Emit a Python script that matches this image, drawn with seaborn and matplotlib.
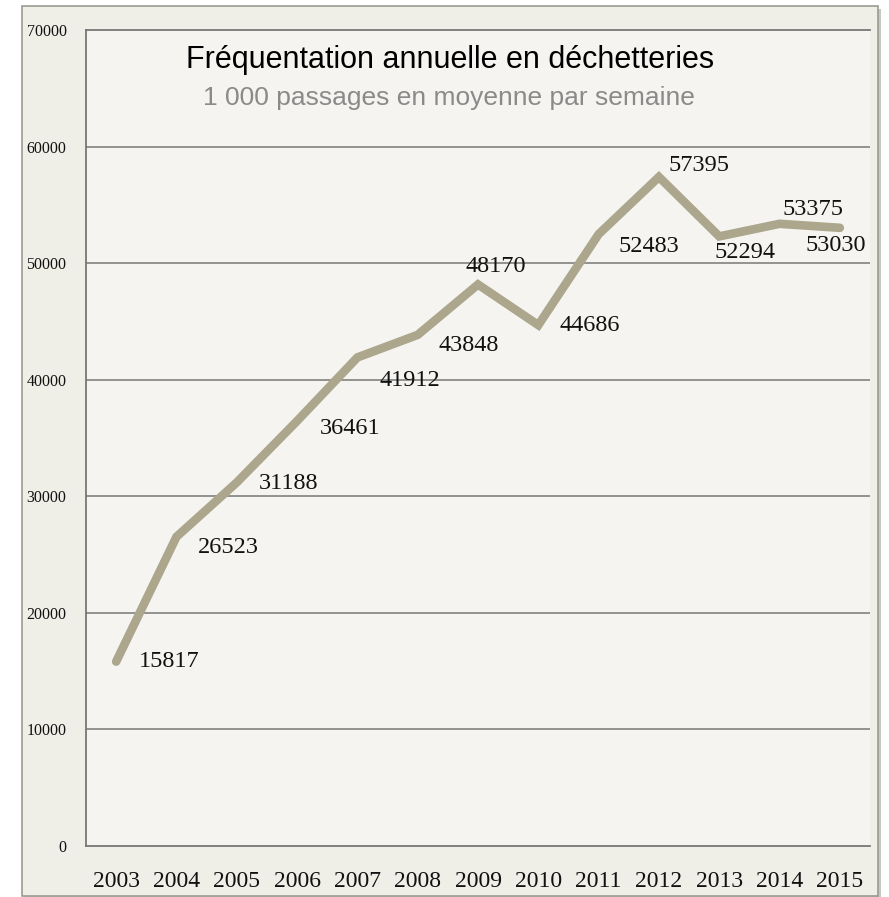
import matplotlib
matplotlib.use('Agg')
import matplotlib.pyplot as plt
import seaborn as sns
from matplotlib.patches import Rectangle

sns.set_theme(style='white')

years = [2003, 2004, 2005, 2006, 2007, 2008, 2009, 2010, 2011, 2012, 2013, 2014, 2015]
passages = [15817, 26523, 31188, 36461, 41912, 43848, 48170, 44686, 52483, 57395, 52294, 53375, 53030]
# label offsets (pixels) relative to each point
label_dx = [23, 21, 22, 23, 22, 21, -12, 21, 20, 10, -5, 3, -34]
label_dy = [0, -11, -1, -8, -23, -11, 18, 0, -12, 11, -16, 14, -18]

title = 'Fréquentation annuelle en déchetteries'
subtitle = '1 000 passages en moyenne par semaine'

W, H = 889, 897
fig = plt.figure(figsize=(W / 100, H / 100), dpi=100)
fig.patch.set_facecolor('white')

# outer frame
fig.patches.append(Rectangle((25 / W, 1 - 899 / H), 856 / W, 890 / H, transform=fig.transFigure,
                             facecolor='#c9c8c0', edgecolor='none', zorder=-10))
fig.patches.append(Rectangle((22 / W, 1 - 896 / H), 856 / W, 890 / H, transform=fig.transFigure,
                             facecolor='#efeee7', edgecolor='#9c9b92', linewidth=1.2, zorder=-9))

ax = fig.add_axes([86 / W, 1 - 846 / H, 784 / W, 816 / H])
ax.set_facecolor('#f5f4f0')

sns.lineplot(x=years, y=passages, ax=ax, color='#aca68d', linewidth=6.2,
             solid_capstyle='round', solid_joinstyle='miter', zorder=3)

for x, y, dx, dy in zip(years, passages, label_dx, label_dy):
    ax.annotate(str(y), (x, y), xytext=(dx, dy), textcoords='offset pixels',
                ha='left', va='center', fontsize=17.5, family='Liberation Serif', color='#111111')

ax.set_xlim(2002.5, 2015.5)
ax.set_ylim(0, 70000)
ax.set_xticks(years)
ax.set_xticklabels([str(y) for y in years], fontsize=17, family='Liberation Serif', color='#111111')
ax.set_yticks(range(0, 70001, 10000))
ax.set_yticklabels([str(v) for v in range(0, 70001, 10000)], fontsize=11.5,
                   family='Liberation Serif', color='#111111')
ax.tick_params(axis='x', length=0, pad=18)
ax.tick_params(axis='y', length=0, pad=14)
ax.set_xlabel('')
ax.set_ylabel('')

for v in range(10000, 70000, 10000):
    ax.axhline(v, color='#777777', linewidth=1.1, zorder=1)

for side in ['left', 'bottom', 'top']:
    ax.spines[side].set_color('#777777')
    ax.spines[side].set_linewidth(1.3)
ax.spines['right'].set_visible(False)

fig.text(450 / W, 1 - 60 / H, title, ha='center', va='center', fontsize=22,
         family='Liberation Sans', color='black')
fig.text(449 / W, 1 - 98 / H, subtitle, ha='center', va='center', fontsize=19,
         family='Liberation Sans', color='#8a8a8a')

fig.savefig('out.png', dpi=100)
